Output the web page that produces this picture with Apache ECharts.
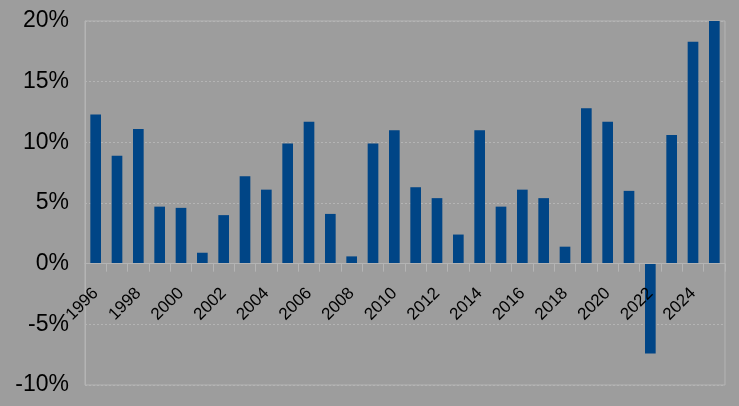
<!DOCTYPE html>
<html>
<head>
<meta charset="utf-8">
<script src="https://cdn.jsdelivr.net/npm/echarts@6/dist/echarts.min.js"></script>
<style>
html,body{margin:0;padding:0;background:#9d9d9d;}
#chart{width:739px;height:406px;}
</style>
</head>
<body>
<div id="chart"></div>
<script>
const years = ['1996','1997','1998','1999','2000','2001','2002','2003','2004','2005','2006','2007','2008','2009','2010','2011','2012','2013','2014','2015','2016','2017','2018','2019','2020','2021','2022','2023','2024','2025'];
const values = [12.3,8.9,11.1,4.7,4.6,0.9,4.0,7.2,6.1,9.9,11.7,4.1,0.6,9.9,11.0,6.3,5.4,2.4,11.0,4.7,6.1,5.4,1.4,12.8,11.7,6.0,-7.4,10.6,18.3,20.0];
const yMin = -10, yMax = 20, yStep = 5;

const W = 739, H = 406;
const gTop = 21, gBottom = 21;
const plotH = H - gTop - gBottom;
const zeroOffset = -plotH * (0 - yMin) / (yMax - yMin);

const chart = echarts.init(document.getElementById('chart'), null, {renderer:'canvas'});
chart.setOption({
  backgroundColor: '#9d9d9d',
  animation: false,
  grid: {left: 85, right: 14, top: gTop, bottom: gBottom, show: true, borderColor: '#b4b4b4', borderWidth: 1, backgroundColor: 'transparent', containLabel: false, outerBoundsMode: 'none'},
  xAxis: {
    type: 'category',
    data: years,
    position: 'bottom',
    offset: zeroOffset,
    zlevel: 1,
    z: 5,
    axisLine: {show: true, onZero: false, lineStyle: {color: '#b4b4b4', width: 1}},
    axisTick: {show: true, interval: 0, length: 8, lineStyle: {color: '#b4b4b4'}},
    axisLabel: {interval: 1, rotate: 45, margin: 27, color: '#000', fontFamily: 'Liberation Sans', fontSize: 17},
    splitLine: {show: false}
  },
  yAxis: {
    type: 'value',
    min: yMin, max: yMax, interval: yStep,
    axisLine: {show: true, lineStyle: {color: '#b4b4b4', width: 1}},
    axisTick: {show: false},
    axisLabel: {formatter: '{value}%', color: '#000', fontFamily: 'Liberation Sans', fontSize: 23, margin: 16},
    splitLine: {show: true, lineStyle: {color: '#b4b4b4', type: [2, 2], width: 1}}
  },
  series: [{
    type: 'bar',
    data: values,
    barWidth: '50%',
    itemStyle: {color: '#004586'}
  }]
});
</script>
</body>
</html>
